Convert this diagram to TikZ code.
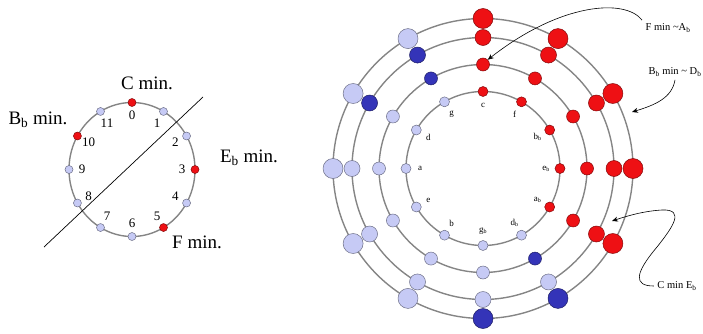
\documentclass[tikz,border=0pt]{standalone}
\usepackage{fontspec}
\setmainfont{Liberation Serif}
\usetikzlibrary{arrows.meta}
\definecolor{pchot}{RGB}{238,16,20}
\definecolor{pcpale}{RGB}{198,202,245}
\definecolor{pcdeep}{RGB}{52,52,184}
\tikzset{
  ring/.style={draw=black!48,line width=1.4pt},
  pc/.style={circle,inner sep=0pt,minimum size=#1,line width=.5pt},
  tone/.style={fill=pc#1,draw=pc#1!55!black},
  big/.style={font=\fontsize{19}{20}\selectfont},
  note/.style={font=\fontsize{10.5}{12}\selectfont},
  pointer/.style={-{Stealth[length=6pt,width=5pt]},line width=.6pt}
}
\begin{document}
\begin{tikzpicture}[x=1pt,y=1pt]
  \useasboundingbox (0,0) rectangle (703,333);
  \draw[ring] (132,163.5) ellipse [x radius=63,y radius=67];
  \draw[line width=.7pt] (44,86) -- (203,236);
  \foreach \k/\t in {0/hot,1/pale,2/pale,3/hot,4/pale,5/hot,6/pale,7/pale,8/pale,9/pale,10/hot,11/pale}{
    \node[pc=8pt,tone=\t] (m\k) at ({132+63*cos(90-30*\k)},{163.5+67*sin(90-30*\k)}) {};
    \node[font=\fontsize{13}{13}\selectfont] (n\k) at ({132+50*cos(90-30*\k)},{163.5+54*sin(90-30*\k)}) {\k};
  }
  \node[big] (cmin) at (147,250) {C min.};
  \node[big] (bbmin) at (38,213) {B\textsubscript{b} min.};
  \node[big] (ebmin) at (249,175) {E\textsubscript{b} min.};
  \node[big] (fmin) at (197,91) {F min.};
  \foreach \r/\s/\lst [count=\i] in {77/10pt/{hot,hot,hot,hot,hot,pale,pale,pale,pale,pale,pale,pale},
      104/13pt/{hot,hot,hot,hot,hot,deep,pale,pale,pale,pale,pale,deep},
      131/16pt/{hot,hot,hot,hot,hot,pale,pale,pale,pale,pale,deep,deep},
      150/20pt/{hot,hot,hot,hot,hot,deep,deep,pale,pale,pale,pale,pale}}{
    \draw[ring] (483,164.5) circle [radius=\r];
    \foreach \t [count=\k from 0] in \lst
      \node[pc=\s,tone=\t] (r\i-\k) at ({483+\r*cos(90-30*\k)},{164.5+\r*sin(90-30*\k)}) {};
  }
  \foreach \n [count=\k from 0] in {c,f,b\textsubscript{b},e\textsubscript{b},a\textsubscript{b},d\textsubscript{b},g\textsubscript{b},b,e,a,d,g}
    \node[font=\fontsize{9}{10}\selectfont] (p\k) at ({483+63*cos(90-30*\k)},{164.5+63*sin(90-30*\k)}) {\n};
  \node[note] (fab) at (668,305) {F min \textasciitilde A\textsubscript{b}};
  \node[note] (bdb) at (675,261) {B\textsubscript{b} min \textasciitilde{} D\textsubscript{b}};
  \node[note] (ceb) at (677,47) {C min E\textsubscript{b}};
  \coordinate (bdbtip) at (632,221);
  \coordinate (cebtip) at (612,112);
  \draw[pointer] (fab.north west) .. controls (625,335) and (560,330) .. (r2-0.north east);
  \draw[pointer] (bdb.south) .. controls (672,235) and (655,228) .. (bdbtip);
  \draw[pointer] (ceb.west) .. controls (633,47) and (635,60) .. (657,86)
    .. controls (672,105) and (686,124) .. (662,123)
    .. controls (645,122) and (630,118) .. (cebtip);
\end{tikzpicture}
\end{document}
